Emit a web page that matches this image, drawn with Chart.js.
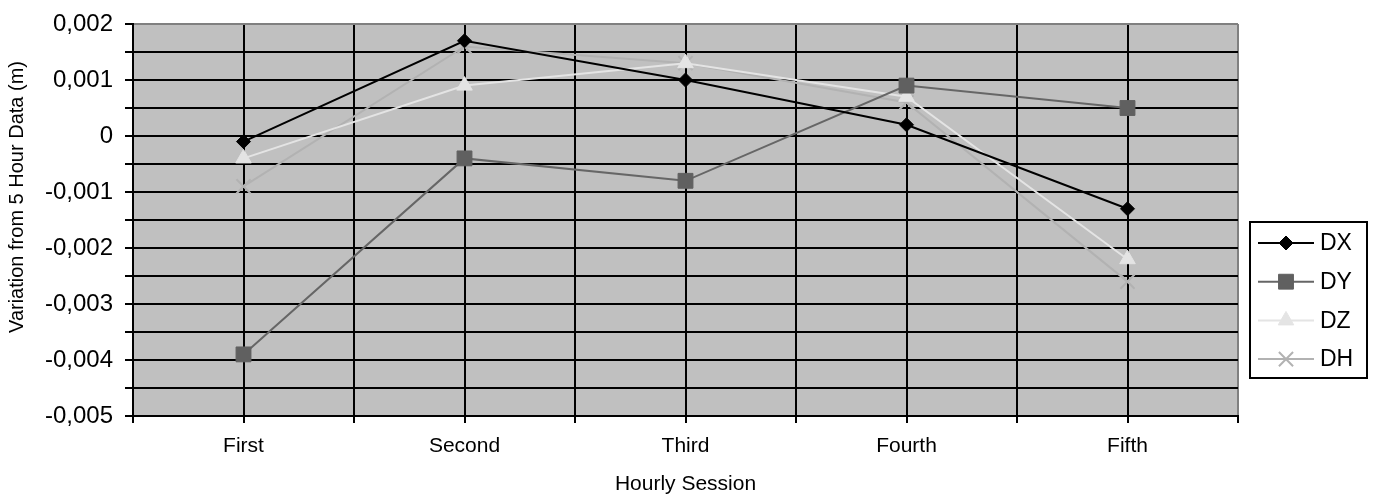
<!DOCTYPE html>
<html>
<head>
<meta charset="utf-8">
<script src="https://cdn.jsdelivr.net/npm/chart.js@4.4.1/dist/chart.umd.min.js"></script>
<style>
    html, body { margin: 0; padding: 0; background: #fff; }
    #wrap { width: 1383px; height: 497px; }
</style>
</head>
<body>
<div id="wrap"><canvas id="chart"></canvas></div>
<script>
const sessions = ['First', 'Second', 'Third', 'Fourth', 'Fifth'];

const dxValues = [-0.0001, 0.0017, 0.0010, 0.0002, -0.0013];
const dyValues = [-0.0039, -0.0004, -0.0008, 0.0009, 0.0005];
const dzValues = [-0.0004, 0.0009, 0.0013, 0.0007, -0.0022];
const dhValues = [-0.0009, 0.0016, 0.0013, 0.0006, -0.0026];

const yTitle = 'Variation from 5 Hour Data (m)';

const FONT = "'Liberation Sans', Arial, sans-serif";

const toPoints = values => values.map((v, i) => ({ x: i, y: v }));

function series(label, values, color, fill, pointStyle, radius) {
    return {
        label,
        data:                 toPoints(values),
        borderColor:          color,
        backgroundColor:      fill,
        borderWidth:          2,
        tension:              0,
        pointStyle,
        pointRadius:          radius,
        pointHoverRadius:     radius,
        pointBackgroundColor: fill,
        pointBorderColor:     fill,
        pointBorderWidth:     pointStyle === 'crossRot' ? 2 : 1,
    };
}

// gray plot background
const plotBackground = {
    id: 'plotBackground',
    beforeDraw(chart) {
        const { ctx, chartArea: a } = chart;
        ctx.save();
        ctx.fillStyle = '#c0c0c0';
        ctx.fillRect(a.left, a.top, a.right - a.left, a.bottom - a.top);
        ctx.restore();
    },
};

// y title sits a bit above the middle of the plot, as in the original
const sideTitle = {
    id: 'sideTitle',
    afterDraw(chart) {
        const { ctx } = chart;
        ctx.save();
        ctx.translate(17, 197);
        ctx.rotate(-Math.PI / 2);
        ctx.font = `20px ${FONT}`;
        ctx.fillStyle = '#000';
        ctx.textAlign = 'center';
        ctx.textBaseline = 'middle';
        ctx.fillText(yTitle, 0, 0);
        ctx.restore();
    },
};

// boxed legend on the right, line + marker per series
const boxedLegend = {
    id: 'boxedLegend',
    afterDraw(chart) {
        const { ctx, chartArea: a } = chart;
        const left = a.right + 12, top = 222, w = 117, h = 156;
        ctx.save();
        ctx.strokeStyle = '#000';
        ctx.lineWidth = 2;
        ctx.strokeRect(left, top, w, h);
        ctx.font = `23px ${FONT}`;
        ctx.textBaseline = 'middle';
        chart.data.datasets.forEach((ds, i) => {
            const y = 243 + i * 38.7;
            ctx.strokeStyle = ds.borderColor;
            ctx.lineWidth = 2;
            ctx.beginPath();
            ctx.moveTo(left + 8, y);
            ctx.lineTo(left + 64, y);
            ctx.stroke();
            ctx.fillStyle = ds.pointBackgroundColor;
            ctx.strokeStyle = ds.pointBorderColor;
            ctx.lineWidth = ds.pointBorderWidth;
            Chart.helpers.drawPoint(ctx, {
                pointStyle:  ds.pointStyle,
                rotation:    0,
                radius:      ds.pointRadius,
                borderWidth: ds.pointBorderWidth,
            }, left + 36, y);
            ctx.fillStyle = '#000';
            ctx.fillText(ds.label, left + 70, y + 1);
        });
        ctx.restore();
    },
};

new Chart(document.getElementById('chart').getContext('2d'), {
    type: 'line',
    data: {
        datasets: [
            series('DX', dxValues, '#000000', '#000000', 'rectRot', 7),
            series('DY', dyValues, '#666666', '#606060', 'rect', 10.5),
            series('DZ', dzValues, '#e4e4e4', '#e4e4e4', 'triangle', 9),
            series('DH', dhValues, '#b2b2b2', '#b2b2b2', 'crossRot', 10),
        ],
    },
    options: {
        responsive:          true,
        maintainAspectRatio: false,
        animation:           false,
        layout: { padding: { left: 4, top: 19, right: 145, bottom: 0 } },
        scales: {
            x: {
                type: 'linear',
                min:  -0.5,
                max:  4.5,
                afterFit: axis => { axis.height = 81; },
                ticks: {
                    stepSize:    0.5,
                    autoSkip:    false,
                    maxRotation: 0,
                    padding:     11,
                    color:       '#000',
                    font:        { family: FONT, size: 21 },
                    callback:    v => Number.isInteger(v) ? sessions[v] : '',
                },
                grid: {
                    color:      ctx => (ctx.tick && ctx.tick.value === 4.5) ? '#808080' : '#000',
                    tickColor:  '#000',
                    lineWidth:  2,
                    tickLength: 7,
                },
                border: { color: '#000', width: 2 },
                title: {
                    display: true,
                    text:    'Hourly Session',
                    color:   '#000',
                    font:    { family: FONT, size: 21 },
                    padding: { top: 0, bottom: 0 },
                },
            },
            y: {
                min: -0.005,
                max: 0.002,
                afterFit: axis => { axis.width = 129; },
                ticks: {
                    stepSize: 0.0005,
                    autoSkip: false,
                    padding:  12,
                    color:    '#000',
                    font:     { family: FONT, size: 24, lineHeight: 1 },
                    callback: v => {
                        const n = Math.round(v * 10000);
                        if (n % 10 !== 0) return '';
                        return n === 0 ? '0' : (n / 10000).toFixed(3).replace('.', ',');
                    },
                },
                grid: {
                    color:      ctx => (ctx.tick && Math.abs(ctx.tick.value - 0.002) < 1e-9) ? '#808080' : '#000',
                    tickColor:  '#000',
                    lineWidth:  2,
                    tickLength: 8,
                },
                border: { color: '#000', width: 2 },
            },
        },
        plugins: {
            legend:  { display: false },
            tooltip: { enabled: false },
        },
    },
    plugins: [plotBackground, sideTitle, boxedLegend],
});
</script>
</body>
</html>
